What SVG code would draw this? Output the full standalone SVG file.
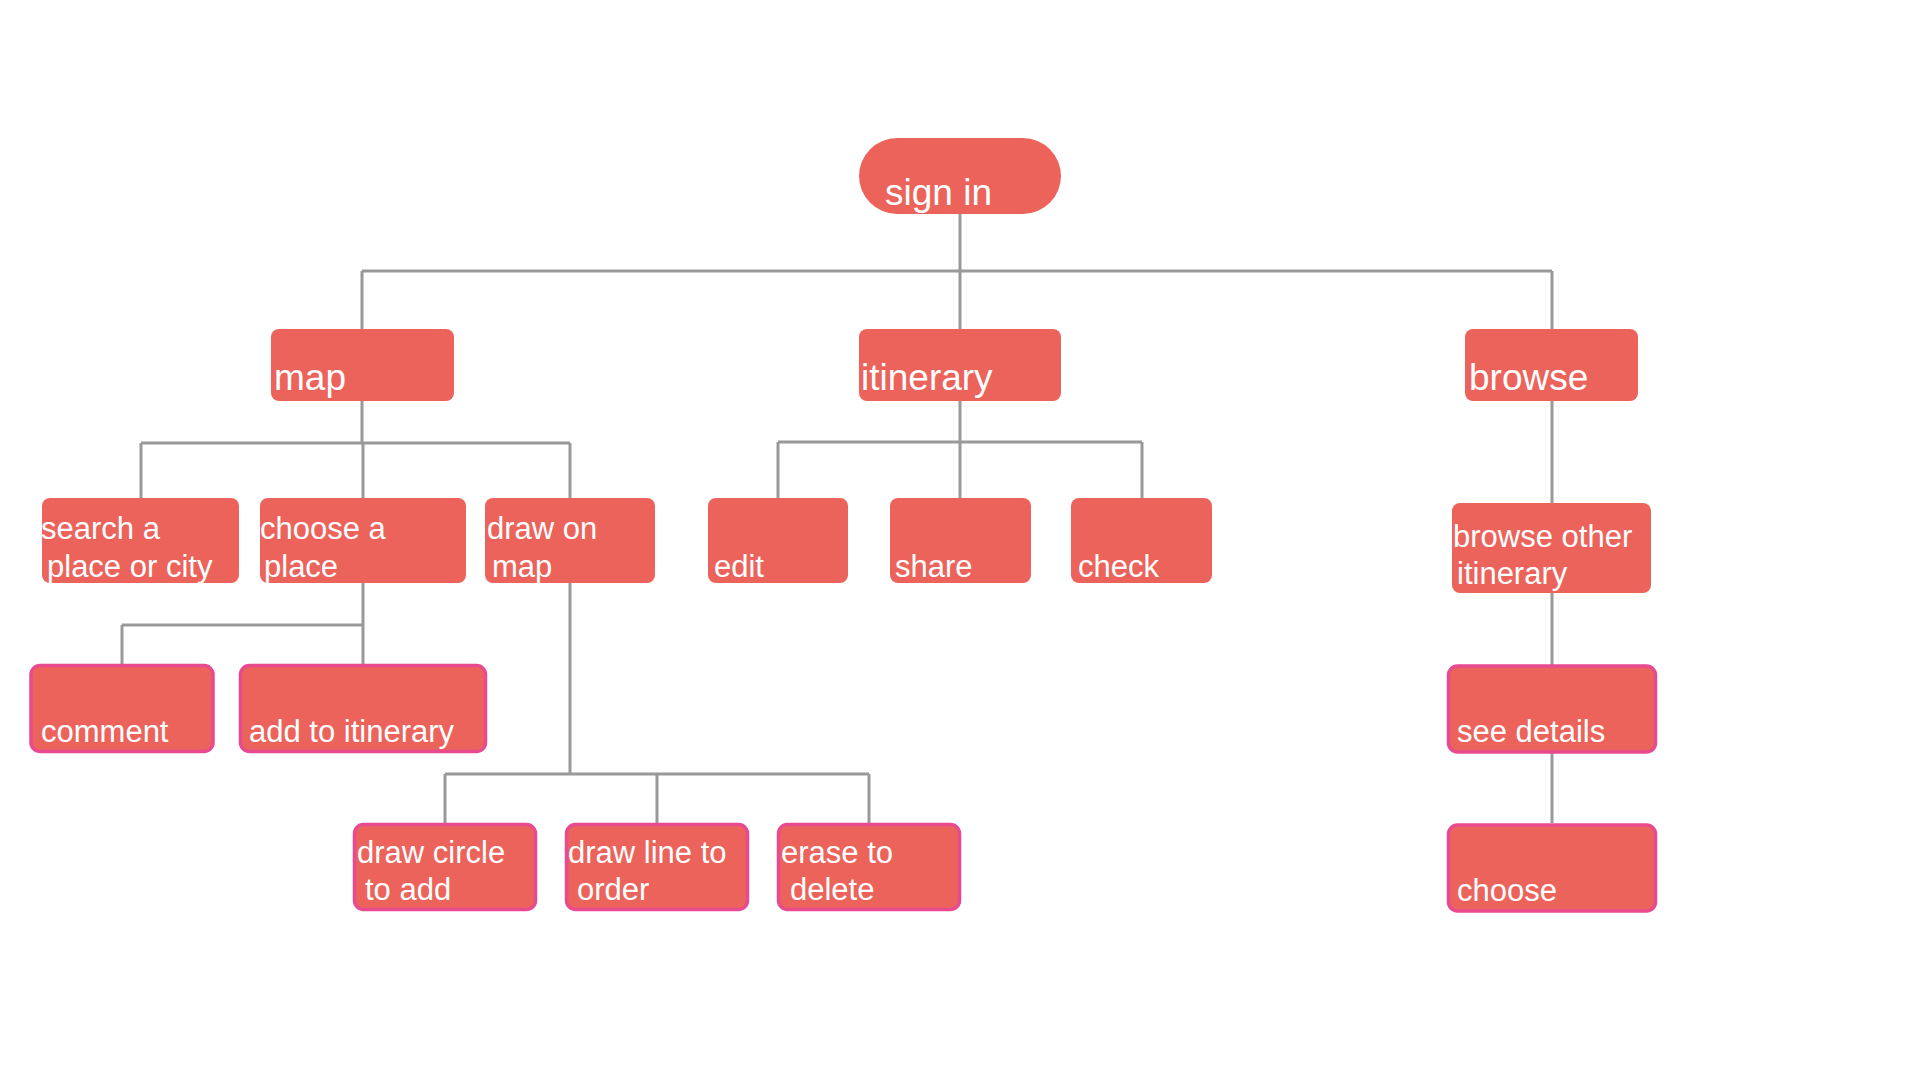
<svg xmlns="http://www.w3.org/2000/svg" width="1920" height="1080" viewBox="0 0 1920 1080">
<style>
.n{fill:#EC635B;}
.p{fill:#EC635B;stroke:#E84A8F;stroke-width:3.5;}
.t{fill:#FFFFFF;font-family:"Liberation Sans",Arial,sans-serif;font-size:31px;}
.t1{fill:#FFFFFF;font-family:"Liberation Sans",Arial,sans-serif;font-size:37px;}
.c{fill:none;stroke:#999999;stroke-width:3;}
</style>
<rect width="1920" height="1080" fill="#FFFFFF"/>
<g id="connectors" class="c">
<path d="M960 214V271M362 271H1552M362 271V329M960 271V329M1552 271V329"/>
<path d="M362 401V443M141 443H570M141 443V498M363 443V498M570 443V498"/>
<path d="M960 401V442M778 442H1142M778 442V498M960 442V498M1142 442V498"/>
<path d="M1552 401V503M1552 593V665M1552 753V823"/>
<path d="M363 583V625M122 625H363M122 625V664M363 625V664"/>
<path d="M570 583V774M445 774H869M445 774V823M657 774V823M869 774V823"/>
</g>
<g id="signin"><rect class="n" x="859" y="138" width="202" height="76" rx="38"/><text class="t1" x="885" y="205">sign in</text></g>
<g id="map"><rect class="n" x="271" y="329" width="183" height="72" rx="8"/><text class="t1" x="274" y="390">map</text></g>
<g id="itinerary"><rect class="n" x="859" y="329" width="202" height="72" rx="8"/><text class="t1" x="861" y="390">itinerary</text></g>
<g id="browse"><rect class="n" x="1465" y="329" width="173" height="72" rx="8"/><text class="t1" x="1469" y="390">browse</text></g>
<g id="search"><rect class="n" x="42" y="498" width="197" height="85" rx="8"/><text class="t" x="41" y="539">search a</text><text class="t" x="47" y="577">place or city</text></g>
<g id="choose-place"><rect class="n" x="260" y="498" width="206" height="85" rx="8"/><text class="t" x="260" y="539">choose a</text><text class="t" x="264" y="577">place</text></g>
<g id="draw-on-map"><rect class="n" x="485" y="498" width="170" height="85" rx="8"/><text class="t" x="487" y="539">draw on</text><text class="t" x="492" y="577">map</text></g>
<g id="edit"><rect class="n" x="708" y="498" width="140" height="85" rx="8"/><text class="t" x="714" y="577">edit</text></g>
<g id="share"><rect class="n" x="890" y="498" width="141" height="85" rx="8"/><text class="t" x="895" y="577">share</text></g>
<g id="check"><rect class="n" x="1071" y="498" width="141" height="85" rx="8"/><text class="t" x="1078" y="577">check</text></g>
<g id="browse-other"><rect class="n" x="1452" y="503" width="199" height="90" rx="8"/><text class="t" x="1453" y="547">browse other</text><text class="t" x="1457" y="584">itinerary</text></g>
<g id="comment"><rect class="p" x="31" y="665.5" width="182" height="86" rx="9"/><text class="t" x="41" y="742">comment</text></g>
<g id="add-to-itinerary"><rect class="p" x="240.5" y="665.5" width="245" height="86" rx="9"/><text class="t" x="249" y="742">add to itinerary</text></g>
<g id="draw-circle"><rect class="p" x="354.5" y="824.5" width="181" height="85" rx="9"/><text class="t" x="357" y="863">draw circle</text><text class="t" x="365" y="900">to add</text></g>
<g id="draw-line"><rect class="p" x="566.5" y="824.5" width="181" height="85" rx="9"/><text class="t" x="568" y="863">draw line to</text><text class="t" x="577" y="900">order</text></g>
<g id="erase"><rect class="p" x="778.5" y="824.5" width="181" height="85" rx="9"/><text class="t" x="781" y="863">erase to</text><text class="t" x="790" y="900">delete</text></g>
<g id="see-details"><rect class="p" x="1448.5" y="666" width="207" height="86" rx="9"/><text class="t" x="1457" y="742">see details</text></g>
<g id="choose"><rect class="p" x="1448.5" y="825" width="207" height="86" rx="9"/><text class="t" x="1457" y="901">choose</text></g>
</svg>
